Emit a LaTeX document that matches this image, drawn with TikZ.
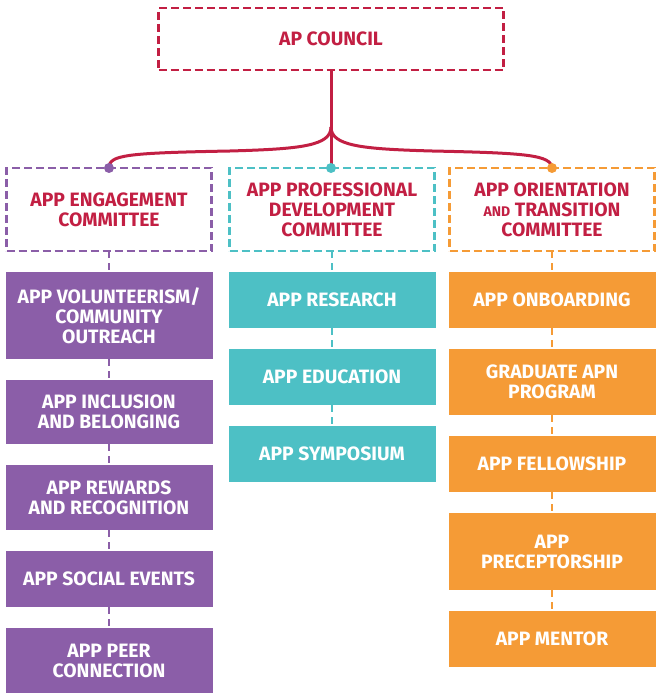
\documentclass[tikz,border=0pt]{standalone}
\usepackage{fontspec}
\setmainfont{Fira Sans}
\usepackage{xcolor}
\definecolor{apred}{RGB}{194,31,67}
\definecolor{appurple}{RGB}{139,94,168}
\definecolor{apteal}{RGB}{77,192,197}
\definecolor{aporange}{RGB}{245,155,54}
\usetikzlibrary{positioning}
\newcommand{\smalland}{{\fontsize{10.5}{15}\selectfont AND}}
\tikzset{
lbl/.style={font=\fontsize{14.5}{15}\selectfont\bfseries, align=center, inner sep=0pt, outer sep=0pt},
headbox/.style={lbl, draw=#1, line width=1.9pt, dash pattern=on 6pt off 3pt, text=apred, minimum width=153.75pt, minimum height=62.25pt},
subbox/.style={lbl, fill=#1, text=white, minimum width=155.25pt},
link/.style={draw=#1, line width=1.9pt, dash pattern=on 5.25pt off 3.75pt},
trunk/.style={draw=apred, line width=2.25pt},
knot/.style={circle, fill=#1, inner sep=0pt, minimum size=7.5pt},
}

\begin{document}
\begin{tikzpicture}[x=0.75pt,y=-0.75pt,node distance=15.75pt]
\useasboundingbox (0,0) rectangle (661,698);

\node[headbox=apred, minimum width=258.75pt, minimum height=46.5pt] (council) at (331,39) {AP COUNCIL};

\node[headbox=appurple] (engage) at (109,209.5) {APP ENGAGEMENT\\COMMITTEE};
\node[headbox=apteal] (profdev) at (332,209.5) {APP PROFESSIONAL\\DEVELOPMENT\\COMMITTEE};
\node[headbox=aporange] (orient) at (552,209.5) {APP ORIENTATION\\\smalland{} TRANSITION\\COMMITTEE};

%purple column
\node[subbox=appurple, minimum height=65.25pt, below=of engage] (volunteer) {APP VOLUNTEERISM/\\COMMUNITY\\OUTREACH};
\node[subbox=appurple, minimum height=48pt, below=of volunteer] (inclusion) {APP INCLUSION\\AND BELONGING};
\node[subbox=appurple, minimum height=48.75pt, below=of inclusion] (rewards) {APP REWARDS\\AND RECOGNITION};
\node[subbox=appurple, minimum height=42pt, below=of rewards] (social) {APP SOCIAL EVENTS};
\node[subbox=appurple, minimum height=48.75pt, below=of social] (peer) {APP PEER\\CONNECTION};

%teal column
\node[subbox=apteal, minimum height=42pt, below=of profdev] (research) {APP RESEARCH};
\node[subbox=apteal, minimum height=42pt, below=of research] (education) {APP EDUCATION};
\node[subbox=apteal, minimum height=42pt, below=of education] (symposium) {APP SYMPOSIUM};

%orange column
\node[subbox=aporange, minimum height=42pt, below=of orient] (onboard) {APP ONBOARDING};
\node[subbox=aporange, minimum height=49.5pt, below=of onboard] (graduate) {GRADUATE APN\\PROGRAM};
\node[subbox=aporange, minimum height=42pt, below=of graduate] (fellow) {APP FELLOWSHIP};
\node[subbox=aporange, minimum height=57.75pt, below=of fellow] (precept) {APP\\PRECEPTORSHIP};
\node[subbox=aporange, minimum height=42pt, below=of precept] (mentor) {APP MENTOR};

\coordinate (fork) at (331,127);
\draw[trunk] (council.south) -- (council.south |- profdev.north);
\draw[trunk] (fork) .. controls (331,146) and (300,149) .. (230,151) .. controls (125,153) and (109,155) .. (engage.north);
\draw[trunk] (fork) .. controls (331,146) and (362,149) .. (432,151) .. controls (527,153) and (551,155) .. (orient.north);

\node[knot=appurple] (knotl) at (engage.north) {};
\node[knot=apteal] (knotm) at (council.south |- profdev.north) {};
\node[knot=aporange] (knotr) at (orient.north) {};

\draw[link=appurple] (engage.south) -- (volunteer.north);
\draw[link=appurple] (volunteer.south) -- (inclusion.north);
\draw[link=appurple] (inclusion.south) -- (rewards.north);
\draw[link=appurple] (rewards.south) -- (social.north);
\draw[link=appurple] (social.south) -- (peer.north);

\draw[link=apteal] (profdev.south) -- (research.north);
\draw[link=apteal] (research.south) -- (education.north);
\draw[link=apteal] (education.south) -- (symposium.north);

\draw[link=aporange] (orient.south) -- (onboard.north);
\draw[link=aporange] (onboard.south) -- (graduate.north);
\draw[link=aporange] (graduate.south) -- (fellow.north);
\draw[link=aporange] (fellow.south) -- (precept.north);
\draw[link=aporange] (precept.south) -- (mentor.north);

\end{tikzpicture}
\end{document}
